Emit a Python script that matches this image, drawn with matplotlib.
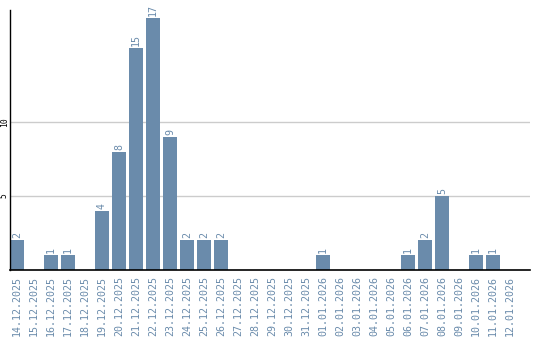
import matplotlib
matplotlib.use("Agg")
import matplotlib.pyplot as plt

dates = ["14.12.2025", "15.12.2025", "16.12.2025", "17.12.2025", "18.12.2025",
         "19.12.2025", "20.12.2025", "21.12.2025", "22.12.2025", "23.12.2025",
         "24.12.2025", "25.12.2025", "26.12.2025", "27.12.2025", "28.12.2025",
         "29.12.2025", "30.12.2025", "31.12.2025", "01.01.2026", "02.01.2026",
         "03.01.2026", "04.01.2026", "05.01.2026", "06.01.2026", "07.01.2026",
         "08.01.2026", "09.01.2026", "10.01.2026", "11.01.2026", "12.01.2026"]
values = [2, 0, 1, 1, 0, 4, 8, 15, 17, 9, 2, 2, 2, 0, 0,
          0, 0, 0, 1, 0, 0, 0, 0, 1, 2, 5, 0, 1, 1, 0]
yticks = [5, 10]

bar_color = "#6a8bab"
label_color = "#6a8bab"

fig = plt.figure(figsize=(5.4, 3.4), dpi=100)
ax = fig.add_axes([10/540, 1 - 270/340, 520/540, 260/340])

x = list(range(len(dates)))
ax.bar(x, values, width=0.82, color=bar_color, zorder=2)
for xi, v in zip(x, values):
    if v > 0:
        ax.annotate(str(v), (xi, v), xytext=(0, 1.5), textcoords="offset points",
                    rotation=90, ha="center", va="bottom", color=label_color,
                    fontsize=7.2, family="DejaVu Sans Mono")

ax.set_xlim(-0.41, 30.18)
ax.set_ylim(0, 17.57)
ax.set_yticks(yticks)
ax.set_yticklabels([str(t) for t in yticks], rotation=90, va="center",
                   fontsize=5.8, family="DejaVu Sans Mono", color="black")
ax.tick_params(axis="y", length=0, pad=0.8)
ax.set_xticks(x)
ax.set_xticklabels(dates, rotation=90, fontsize=7.2, family="DejaVu Sans Mono",
                   color=label_color)
ax.tick_params(axis="x", length=0, pad=4)
ax.grid(axis="y", color="#cccccc", linewidth=1, zorder=0)
for s in ["top", "right"]:
    ax.spines[s].set_visible(False)
ax.spines["left"].set_color("black")
ax.spines["bottom"].set_color("black")
ax.spines["left"].set_linewidth(1)
ax.spines["bottom"].set_linewidth(1.2)
ax.spines["bottom"].set_zorder(3)

fig.savefig("out.png", dpi=100)
